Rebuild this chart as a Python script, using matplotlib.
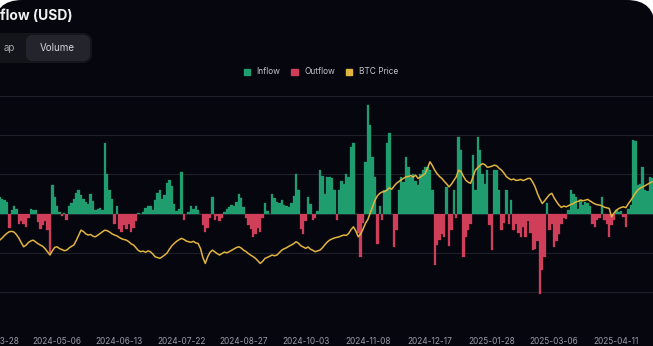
#!/usr/bin/env python3

import matplotlib
matplotlib.use('Agg')
from matplotlib import pyplot as plt
from matplotlib.patches import FancyBboxPatch, Patch
from matplotlib.transforms import IdentityTransform
import numpy as np

# daily net ETF flow, million USD (trading days from 2024-03-28)
flows = [
    150, 180, 210, 180, 170, 150, -190, 40, 100, 60,
    -130, -90, -130, -170, -60, 60, 40, 50, -110, -200,
    -150, -100, -210, -510, 370, 210, 90, 20, -30, 10,
    -80, 90, 140, 190, 260, 300, 240, 180, 150, 120,
    255, 160, 50, 60, 70, 40, 900, 510, 300, 180,
    -130, 100, -200, -230, -150, -200, -130, -230, -180, -100,
    10, 0, 20, 70, 100, 90, 40, 170, 260, 300,
    180, 240, 390, 430, 350, 120, 30, 60, 535, -80,
    0, 20, 90, 60, 100, 40, 0, -150, -235, -180,
    -60, 210, -80, -30, -90, -60, 20, 60, 80, 110,
    100, 150, 255, 200, 80, -60, -150, -200, -300, -260,
    -180, -240, -60, 130, 30, 0, 255, 200, 150, 130,
    170, 110, 90, 80, 130, 220, 510, 300, -200, -260,
    -90, 210, 120, -80, -60, 30, 555, 480, 250, 460,
    470, 450, 300, -85, 300, 420, 380, 510, 470, 850,
    900, 0, -250, -555, -120, 660, 1390, 1130, 720, 470,
    -385, 100, -85, 300, 900, 1025, 0, -430, -210, 300,
    470, 400, 725, 600, 470, 510, 420, 360, 510, 550,
    600, 600, 550, 300, -660, -400, -340, -260, -300, 340,
    -420, -210, 300, -60, 980, 810, -555, -300, -210, -130,
    750, 300, 980, 810, 500, 380, 550, -150, -470, 550,
    550, 300, -210, -120, 300, -130, 170, -210, -130, -250,
    -300, -170, -300, -100, -250, -470, -450, -350, -1025, -720,
    -555, 130, -210, -130, -430, -350, -260, -130, -60, -65,
    40, 300, 250, 210, 60, 170, 110, 150, 130, 100,
    -130, -170, -85, -60, 210, -85, -130, -300, -150, -85,
    40, 20, 30, -40, -170, 60, 110, 940, 930, 360,
    380, 600, 300, 290, 470, 450,
]

# BTC price, thousand USD
btc_price = [
    69.5, 68.0, 66.4, 67.5, 68.8, 69.9, 70.7, 70.9, 70.5, 69.2,
    67.4, 65.1, 63.0, 63.8, 65.2, 66.0, 66.4, 65.5, 64.6, 63.9,
    63.2, 62.0, 60.4, 58.8, 60.9, 62.7, 63.0, 62.1, 61.6, 61.0,
    61.3, 62.4, 63.2, 63.9, 66.2, 68.9, 71.5, 70.8, 69.6, 69.0,
    69.3, 68.4, 68.1, 68.9, 69.8, 70.7, 71.5, 71.2, 70.5, 69.6,
    69.0, 68.6, 67.8, 67.1, 66.7, 66.4, 65.6, 64.5, 63.9, 62.5,
    61.1, 60.5, 60.8, 60.2, 60.9, 60.5, 59.4, 57.9, 57.5, 57.1,
    57.9, 58.8, 59.8, 61.8, 63.5, 64.7, 65.8, 66.6, 67.3, 66.8,
    66.0, 65.6, 65.3, 65.8, 65.0, 64.7, 62.1, 57.5, 54.5, 57.9,
    60.2, 61.3, 60.4, 59.5, 58.8, 59.6, 60.3, 59.9, 60.5, 61.2,
    61.9, 62.6, 63.0, 62.4, 61.3, 60.6, 59.6, 58.7, 58.0, 57.1,
    55.8, 54.5, 55.6, 57.1, 57.6, 58.2, 58.8, 58.4, 58.8, 60.0,
    61.3, 62.0, 62.5, 63.3, 63.9, 64.6, 65.6, 64.8, 63.5, 62.9,
    62.2, 62.9, 61.8, 61.2, 60.5, 60.9, 61.3, 62.5, 64.0, 65.4,
    66.4, 67.0, 67.5, 67.8, 68.1, 68.6, 69.0, 68.8, 69.8, 71.8,
    73.2, 71.0, 68.1, 69.5, 72.0, 74.9, 76.9, 80.2, 83.6, 86.8,
    89.0, 90.3, 91.0, 91.2, 91.9, 93.1, 92.4, 94.0, 95.4, 96.3,
    97.2, 98.0, 98.7, 98.9, 99.4, 98.6, 99.6, 97.9, 98.6, 99.5,
    100.4, 103.2, 106.4, 104.5, 102.1, 100.3, 98.9, 97.9, 96.4, 95.1,
    93.6, 95.0, 96.8, 98.7, 102.1, 101.4, 99.0, 97.0, 96.0, 95.4,
    98.6, 102.1, 103.4, 104.6, 105.5, 104.9, 103.6, 103.8, 104.2, 104.7,
    104.3, 103.0, 102.1, 100.6, 98.8, 97.9, 97.2, 97.6, 96.9, 97.0,
    97.4, 96.8, 97.3, 97.9, 97.9, 96.0, 93.6, 90.2, 87.4, 85.1,
    86.5, 88.1, 89.6, 90.3, 87.9, 86.0, 84.3, 83.1, 83.8, 83.4,
    84.0, 84.6, 85.1, 85.9, 86.2, 86.9, 86.5, 86.8, 87.2, 86.4,
    85.6, 84.9, 84.5, 84.3, 83.9, 83.2, 82.9, 82.6, 78.3, 80.2,
    81.7, 82.5, 83.1, 83.4, 83.0, 85.0, 86.6, 88.5, 90.5, 92.0,
    93.0, 93.6, 94.2, 94.9, 95.6, 96.2,
]

tick_labels = ['2024-03-28', '2024-05-06', '2024-06-13', '2024-07-22',
               '2024-08-27', '2024-10-03', '2024-11-08', '2024-12-17',
               '2025-01-28', '2025-03-06', '2025-04-11']
legend_labels = ['Inflow', 'Outflow', 'BTC Price']

W, H = 653, 346
BG = '#06060f'
GREEN = '#1f9d6e'
RED = '#cf3f5a'
GOLD = '#e0b43e'


def rounded(fig, x0, y0, x1, y1, r, color, z):
    # pixel box, y measured from the top of the image
    patch = FancyBboxPatch((x0, H - y1), x1 - x0, y1 - y0,
                           boxstyle=f'round,pad=0,rounding_size={r}',
                           transform=IdentityTransform(), facecolor=color,
                           edgecolor='none', zorder=z)
    fig.add_artist(patch)


def main():
    plt.rcParams['font.family'] = ['Inter', 'DejaVu Sans']

    fig = plt.figure(figsize=(W / 100, H / 100), dpi=100, facecolor='white')

    # dark card with rounded corners
    rounded(fig, -6, 0, 655, 400, 28, BG, -10)

    # button group
    rounded(fig, -30, 33, 92, 63, 9, '#14141b', -5)
    rounded(fig, 26, 35, 90, 61, 7, '#24242d', -4)
    fig.text(9 / W, 1 - 48 / H, 'ap', color='#a8a8b2', fontsize=7,
             ha='center', va='center')
    fig.text(57 / W, 1 - 48 / H, 'Volume', color='#d4d4dc', fontsize=7,
             ha='center', va='center')

    fig.text(0.5 / W, 1 - 16 / H, 'flow (USD)', color='#f0f0f0',
             fontsize=10, weight='bold', ha='left', va='center')

    # plot area (extends a little beyond the left edge of the image)
    ax = fig.add_axes([-11 / W, (H - 331) / H, 664.4 / W, 235 / H])
    ax.set_facecolor(BG)
    x = np.arange(len(flows))
    bar_colors = [GREEN if v >= 0 else RED for v in flows]
    ax.bar(x, flows, width=1.0, color=bar_colors, edgecolor=bar_colors,
           linewidth=0.2)
    ax.set_xlim(-2.5, 275.5)
    ax.set_ylim(-1500, 1500)
    ax.set_yticks(np.arange(-1500, 1501, 500))
    ax.grid(axis='y', color='#1f1f29', linewidth=0.8)
    ax.set_axisbelow(True)
    ax.set_xticks(np.arange(0, 261, 26))
    ax.set_xticklabels(tick_labels)
    ax.tick_params(axis='x', length=0, pad=4, labelsize=6, labelcolor='#9a9aa6')
    ax.tick_params(axis='y', left=False, labelleft=False)
    for s in ax.spines.values():
        s.set_visible(False)

    ax2 = ax.twinx()
    ax2.plot(x, btc_price, color=GOLD, linewidth=1.1)
    ax2.set_ylim(20, 140)
    ax2.set_yticks([])
    for s in ax2.spines.values():
        s.set_visible(False)

    handles = [Patch(color=GREEN), Patch(color=RED), Patch(color=GOLD)]
    ax2.legend(handles, legend_labels, loc='center', ncol=3,
               bbox_to_anchor=(321 / W, 1 - 72 / H),
               bbox_transform=fig.transFigure, frameon=False, fontsize=6,
               handlelength=0.75, handleheight=0.75, handletextpad=0.8,
               columnspacing=1.3, labelcolor='#c4c4cc')

    fig.savefig('out.png', dpi=100, facecolor='white')


if __name__ == '__main__':
    main()
